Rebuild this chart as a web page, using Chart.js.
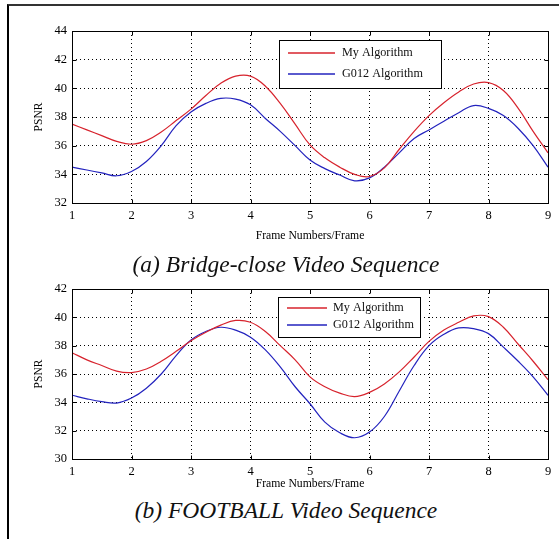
<!DOCTYPE html>
<html>
<head>
<meta charset="utf-8">
<script src="https://cdn.jsdelivr.net/npm/chart.js@4.4.1/dist/chart.umd.min.js"></script>
<style>
  html, body { margin: 0; padding: 0; background: #fff; }
  #page { position: relative; width: 559px; height: 539px; overflow: hidden; background: #fff; }
  #frame { position: absolute; left: 7px; top: 4px; width: 560px; height: 540px;
           border-left: 2px solid #000; border-top: 2px solid #333; }
  .cv { position: absolute; left: 0; width: 559px; height: 246px; }
  #c1 { top: 0; }
  #c2 { top: 250px; }
  .cap { position: absolute; left: 0; width: 572px; text-align: center;
         font-family: "Liberation Serif", "DejaVu Serif", serif; font-style: italic;
         font-size: 23.5px; color: #111; line-height: 26px; white-space: nowrap; }
</style>
</head>
<body>
<div id="page">
  <div id="frame"></div>
  <canvas id="c1" class="cv" width="559" height="246"></canvas>
  <canvas id="c2" class="cv" width="559" height="246"></canvas>
  <div class="cap" style="top:251px;">(a) Bridge-close Video Sequence</div>
  <div class="cap" style="top:497px;">(b) FOOTBALL Video Sequence</div>
</div>
<script>
// ---------------- data ----------------
const frames = [1, 1.25, 1.5, 1.75, 2, 2.25, 2.5, 2.75, 3, 3.25, 3.5, 3.75, 4, 4.25, 4.5, 4.75,
                5, 5.25, 5.5, 5.75, 6, 6.25, 6.5, 6.75, 7, 7.25, 7.5, 7.75, 8, 8.25, 8.5, 8.75, 9];
const seriesNames = ["My Algorithm", "G012 Algorithm"];
const xTicks = [1, 2, 3, 4, 5, 6, 7, 8, 9];

// (a) Bridge-close
const bridgeMine = [37.5, 37.1, 36.7, 36.3, 36.1, 36.35, 36.95, 37.75, 38.55, 39.5, 40.35, 40.85, 40.85, 40.15, 38.95, 37.5,
                    36.05, 35.15, 34.5, 34.0, 33.85, 34.45, 35.75, 37.0, 38.1, 39.0, 39.75, 40.3, 40.4, 39.85, 38.6, 37.0, 35.5];
const bridgeG012 = [34.5, 34.3, 34.1, 33.9, 34.2, 34.9, 36.0, 37.4, 38.35, 38.95, 39.3, 39.25, 38.85, 37.9, 37.0, 36.0,
                    35.0, 34.4, 33.95, 33.55, 33.75, 34.5, 35.5, 36.5, 37.1, 37.7, 38.3, 38.8, 38.6, 38.1, 37.2, 36.0, 34.5];
const bridgeYTicks = [32, 34, 36, 38, 40, 42, 44];

// (b) FOOTBALL
const footballMine = [37.5, 37.0, 36.6, 36.2, 36.1, 36.35, 36.9, 37.6, 38.35, 38.95, 39.45, 39.78, 39.65, 39.0, 38.0, 37.0,
                      35.8, 35.1, 34.65, 34.4, 34.7, 35.3, 36.15, 37.2, 38.3, 39.1, 39.65, 40.1, 40.05, 39.3, 38.1, 36.9, 35.6];
const footballG012 = [34.5, 34.25, 34.05, 33.95, 34.3, 35.0, 36.0, 37.3, 38.4, 39.0, 39.3, 39.1, 38.6, 37.7, 36.5, 35.1,
                      33.9, 32.6, 31.85, 31.5, 31.9, 33.0, 34.8, 36.6, 38.0, 38.8, 39.25, 39.2, 38.85, 37.9, 36.9, 35.8, 34.5];
const footballYTicks = [30, 32, 34, 36, 38, 40, 42];

// ---------------- styling / drawing ----------------
const SERIF = "'Liberation Serif', 'DejaVu Serif', serif";
const RED = "rgb(215,35,45)";
const BLUE = "rgb(35,35,190)";

const framePlugin = {
  id: 'matlabFrame',
  afterDraw(chart, args, opts) {
    const ctx = chart.ctx;
    const a = chart.chartArea;
    const L = Math.round(a.left) + 0.5, R = Math.round(a.right) + 0.5;
    const T = Math.round(a.top) + 0.5, B = Math.round(a.bottom) + 0.5;
    ctx.save();
    ctx.strokeStyle = '#000';
    ctx.lineWidth = 1;
    ctx.setLineDash([]);
    ctx.strokeRect(L, T, R - L, B - T);
    // inward tick marks
    const xs = chart.scales.x, ys = chart.scales.y;
    ctx.beginPath();
    xs.ticks.forEach(t => {
      const px = Math.round(xs.getPixelForValue(t.value)) + 0.5;
      ctx.moveTo(px, B); ctx.lineTo(px, B - 4);
      ctx.moveTo(px, T); ctx.lineTo(px, T + 4);
    });
    ys.ticks.forEach(t => {
      const py = Math.round(ys.getPixelForValue(t.value)) + 0.5;
      ctx.moveTo(L, py); ctx.lineTo(L + 4, py);
      ctx.moveTo(R, py); ctx.lineTo(R - 4, py);
    });
    ctx.stroke();
    // legend box
    const lg = opts.legend;
    if (lg) {
      ctx.fillStyle = '#fff';
      ctx.fillRect(lg.x, lg.y, lg.w, lg.h);
      ctx.strokeStyle = '#000';
      ctx.lineWidth = 1;
      ctx.strokeRect(lg.x + 0.5, lg.y + 0.5, lg.w, lg.h);
      ctx.font = lg.fontSize + "px " + SERIF;
      ctx.textBaseline = 'middle';
      ctx.textAlign = 'left';
      chart.data.datasets.forEach((ds, i) => {
        const y = Math.round(lg.y + lg.rows[i]);
        ctx.beginPath();
        ctx.strokeStyle = ds.borderColor;
        ctx.lineWidth = 1.4;
        ctx.moveTo(lg.x + lg.lineX0, y);
        ctx.lineTo(lg.x + lg.lineX1, y);
        ctx.stroke();
        ctx.fillStyle = '#111';
        ctx.fillText(ds.label, lg.x + lg.textX, y);
      });
    }
    ctx.restore();
  }
};

function makeChart(id, mine, g012, yTicks, geom) {
  const pts = arr => frames.map((f, i) => ({ x: f, y: arr[i] }));
  return new Chart(document.getElementById(id), {
    type: 'line',
    data: {
      datasets: [
        { label: seriesNames[0], data: pts(mine), borderColor: RED, borderWidth: 1.2,
          pointRadius: 0, tension: 0.4, fill: false },
        { label: seriesNames[1], data: pts(g012), borderColor: BLUE, borderWidth: 1.2,
          pointRadius: 0, tension: 0.4, fill: false }
      ]
    },
    options: {
      responsive: false,
      animation: false,
      events: [],
      layout: { padding: { top: geom.top, right: 11, left: 0, bottom: 0 } },
      plugins: {
        legend: { display: false },
        tooltip: { enabled: false },
        matlabFrame: { legend: geom.legend }
      },
      scales: {
        x: {
          type: 'linear', min: xTicks[0], max: xTicks[xTicks.length - 1],
          afterBuildTicks: s => { s.ticks = xTicks.map(v => ({ value: v })); },
          afterFit: s => { s.height = geom.xH; },
          grid: { color: '#000', lineWidth: 1, drawTicks: false },
          border: { display: false, dash: [1, 3] },
          ticks: { color: '#000', font: { family: SERIF, size: 12.5 }, padding: geom.xPad, maxRotation: 0 },
          title: { display: true, text: 'Frame Numbers/Frame', color: '#000',
                   font: { family: SERIF, size: 11.7 }, padding: { top: 0, bottom: geom.xTitlePad } }
        },
        y: {
          type: 'linear', min: yTicks[0], max: yTicks[yTicks.length - 1],
          afterBuildTicks: s => { s.ticks = yTicks.map(v => ({ value: v })); },
          afterFit: s => { s.width = 72; },
          grid: { color: '#000', lineWidth: 1, drawTicks: false },
          border: { display: false, dash: [1, 3] },
          ticks: { color: '#000', font: { family: SERIF, size: 12.5 }, padding: 5 },
          title: { display: true, text: 'PSNR', color: '#000',
                   font: { family: SERIF, size: 11.5 }, padding: { top: 32, bottom: 0 } }
        }
      }
    },
    plugins: [framePlugin]
  });
}

makeChart('c1', bridgeMine, bridgeG012, bridgeYTicks, {
  top: 31, xH: 43, xPad: 5, xTitlePad: 3,
  legend: { x: 279, y: 40, w: 162, h: 48, rows: [13, 34], lineX0: 9, lineX1: 56, textX: 63, fontSize: 12.2 }
});
makeChart('c2', footballMine, footballG012, footballYTicks, {
  top: 39, xH: 37, xPad: 5, xTitlePad: 5,
  legend: { x: 278, y: 47, w: 142, h: 40, rows: [11, 28], lineX0: 9, lineX1: 49, textX: 55, fontSize: 12.2 }
});
</script>
</body>
</html>
